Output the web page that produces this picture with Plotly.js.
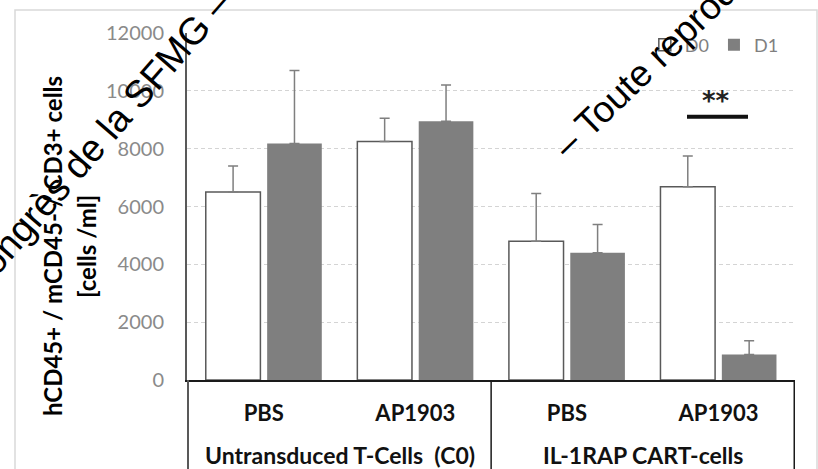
<!DOCTYPE html>
<html><head><meta charset="utf-8">
<script src="https://cdn.plot.ly/plotly-3.0.1.min.js"></script>
<style>html,body{margin:0;padding:0;background:#fff}#chart{width:818px;height:469px}</style>
</head><body><div id="chart"></div>
<script>
const groups = ["Untransduced T-Cells\u00a0 (C0)", "Untransduced T-Cells\u00a0 (C0)", "IL-1RAP CART-cells", "IL-1RAP CART-cells"];
const treatments = ["PBS", "AP1903", "PBS", "AP1903"];
const d0Values = [6500, 8250, 4800, 6680];
const d0Errors = [900, 800, 1650, 1070];
const d1Values = [8180, 8950, 4400, 880];
const d1Errors = [2520, 1250, 980, 480];
const yTicks = [0, 2000, 4000, 6000, 8000, 10000, 12000];
const sigY = 9100;

const FONT = "Lato, 'Open Sans', sans-serif";
const WM = "'Liberation Sans', Arial, sans-serif";
const xKeys = groups.map((g, i) => g + ' | ' + treatments[i]);

const traces = [
  {type:'bar', name:'D0', x:xKeys, y:d0Values,
   marker:{color:'#ffffff', line:{color:'#595959', width:1.5}},
   error_y:{type:'data', symmetric:false, array:d0Errors, arrayminus:d0Errors.map(()=>0), color:'#7f7f7f', thickness:1.5, width:5}},
  {type:'bar', name:'D1', x:xKeys, y:d1Values,
   marker:{color:'#7f7f7f', line:{color:'#7f7f7f', width:0}},
   error_y:{type:'data', symmetric:false, array:d1Errors, arrayminus:d1Errors.map(()=>0), color:'#7f7f7f', thickness:1.5, width:5}}
];

// group labels and divider positions, derived from the categories
const uniqueGroups = [...new Set(groups)];
const groupAnn = uniqueGroups.map(g => {
  const idx = groups.map((v, i) => v === g ? i : -1).filter(i => i >= 0);
  return {xref:'x', yref:'paper', x:(idx[0] + idx[idx.length-1]) / 2, y:(380-455)/347, yanchor:'middle',
    showarrow:false, text:g, font:{family:FONT, size:23, weight:'bold', color:'#111'}};
});
const dividerX = [-0.5];
uniqueGroups.forEach(g => { dividerX.push(groups.lastIndexOf(g) + 0.5); });
const bottom = -89/347;
const dividers = dividerX.map((x, k) => ({type:'line', xref:'x', yref:'paper', x0:x, x1:x, y0:bottom, y1:0,
  line:{color: k === 0 ? '#595959' : '#1a1a1a', width: k === 0 ? 2 : 1.5}}));

const layout = {
  width:818, height:469,
  margin:{l:187, r:23, t:33, b:89},
  paper_bgcolor:'#fff', plot_bgcolor:'#fff',
  barmode:'group', bargap:0.19, bargroupgap:0.11,
  font:{family:FONT, color:'#000'},
  showlegend:true,
  legend:{orientation:'h', x:0.753, xanchor:'left', y:0.965, yanchor:'middle',
    font:{family:FONT, size:18, color:'#7f7f7f'}, bgcolor:'rgba(0,0,0,0)'},
  xaxis:{type:'category', tickvals:xKeys, ticktext:treatments, showline:true, linecolor:'#1a1a1a', linewidth:2,
    ticks:'', tickfont:{family:FONT, size:22, weight:'bold', color:'#111'}, ticklabelstandoff:13, showgrid:false, zeroline:false},
  yaxis:{range:[0,12000], tickvals:yTicks, ticktext:yTicks.map(String), showline:true, linecolor:'#595959', linewidth:2,
    ticks:'', ticklabelstandoff:17, tickfont:{family:FONT, size:20, color:'#8a8a8a'},
    showgrid:true, gridcolor:'#d4d4d4', gridwidth:1, griddash:'4px,3px', zeroline:false},
  shapes:[
    {type:'rect', xref:'paper', yref:'paper', x0:(15-187)/608, x1:(817-187)/608, y0:-0.4, y1:(380-10)/347, line:{color:'#d9d9d9', width:1.5}, fillcolor:'rgba(0,0,0,0)', layer:'below'},
    ...dividers,
    {type:'line', xref:'paper', yref:'y', x0:(687-187)/608, x1:(748-187)/608, y0:sigY, y1:sigY, line:{color:'#111', width:4}}
  ],
  annotations:[
    ...groupAnn,
    {xref:'paper', yref:'paper', x:(52-187)/608, y:(380-246)/347, xanchor:'center', yanchor:'middle', showarrow:false, textangle:-90,
     text:'hCD45+ / mCD45- / CD3+ cells', font:{family:FONT, size:24, weight:'bold', color:'#000'}},
    {xref:'paper', yref:'paper', x:(87-187)/608, y:(380-247)/347, xanchor:'center', yanchor:'middle', showarrow:false, textangle:-90,
     text:'[cells /ml]', font:{family:FONT, size:24, weight:'bold', color:'#000'}},
    {xref:'paper', yref:'y', x:(716-187)/608, y:9650, xanchor:'center', yanchor:'middle', showarrow:false, text:'**',
     font:{family:"'DejaVu Sans', sans-serif", size:26, weight:'bold', color:'#222'}},
    {xref:'paper', yref:'paper', x:(128-187)/608, y:(380-106)/347, xanchor:'center', yanchor:'middle', showarrow:false, textangle:-49,
     text:'Congrès de la SFMG – Paris', font:{family:WM, size:38, color:'#000'}},
    {xref:'paper', yref:'paper', x:(680-187)/608, y:(380-34)/347, xanchor:'center', yanchor:'middle', showarrow:false, textangle:-44,
     text:'– Toute reproduction', font:{family:WM, size:37, color:'#000'}}
  ]
};
Plotly.newPlot('chart', traces, layout, {displayModeBar:false, staticPlot:true});
</script>
</body></html>
